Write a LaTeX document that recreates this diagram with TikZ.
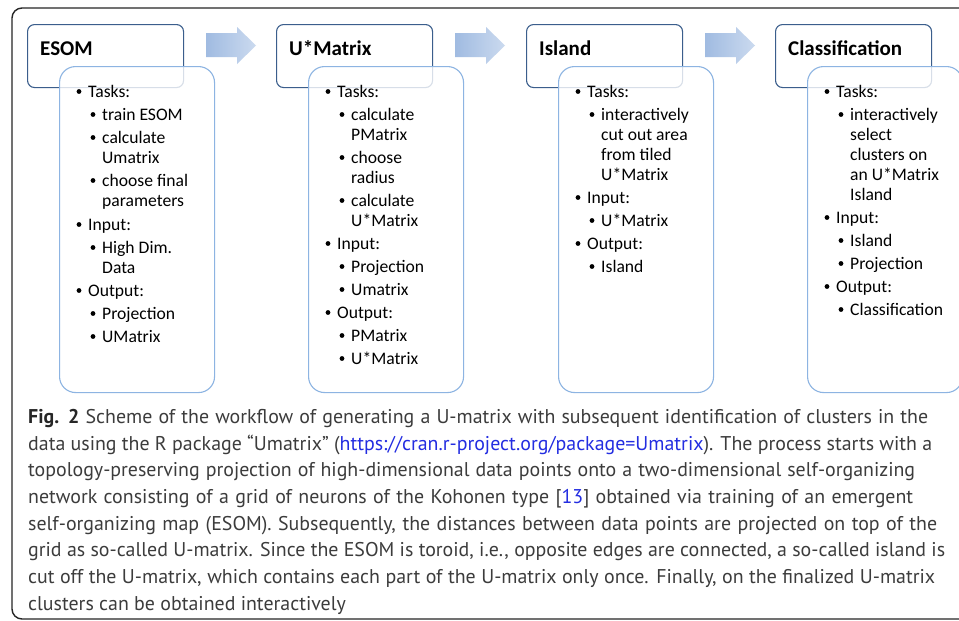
\documentclass[tikz,border=0pt]{standalone}
\usepackage{fontspec}
\setmainfont{Carlito}
\newfontfamily\capfont{PT Sans}
\definecolor{hdblue}{RGB}{59,94,140}
\definecolor{bdblue}{RGB}{141,180,226}
\definecolor{arrL}{RGB}{160,187,225}
\definecolor{arrR}{RGB}{203,218,239}
\definecolor{capgray}{RGB}{60,60,60}
\definecolor{linkblue}{RGB}{35,45,225}
\newcounter{tl}
\newcommand\tline[3]{\stepcounter{tl}\node[txt] (t\arabic{tl}) at (#1,#2) {#3};}
\newcommand\tbul[2]{\stepcounter{tl}\node[bul] (t\arabic{tl}) at (#1,#2-5.5) {};}
% level-1 item: offset, baseline, text
\newcommand\itA[3]{\tbul{79+#1}{#2}\tline{88+#1}{#2}{#3}}
% level-2 item
\newcommand\itB[3]{\tbul{93+#1}{#2}\tline{102+#1}{#2}{#3}}
% continuation line
\newcommand\itC[3]{\tline{102+#1}{#2}{#3}}
\newcommand\flowarrow[2]{\shade[left color=arrL, right color=arrR] (#1,33) -- (#1+31,33) -- (#1+31,27) -- (#1+50,45.5) -- (#1+31,64) -- (#1+31,57) -- (#1,57) -- cycle;\coordinate (#2) at (#1+25,45.5);}
\newcommand\capline[4]{\node[captxt] (#1) at (28,#2) {\makebox[#3pt][s]{#4}};}
\begin{document}
\begin{tikzpicture}[x=1pt,y=-1pt,
  frame/.style={draw=black!85, line width=1.4pt, rounded corners=10pt},
  headbox/.style={draw=hdblue, line width=1.1pt, fill=white, rounded corners=7pt, anchor=north west, minimum width=156pt, minimum height=63pt, inner sep=0pt},
  bodybox/.style={draw=bdblue, line width=1.1pt, fill=white, fill opacity=0.8, rounded corners=16pt, anchor=north west, minimum width=155pt, minimum height=326pt, inner sep=0pt},
  headtxt/.style={anchor=base west, inner sep=0pt, font=\fontsize{21}{24}\selectfont\bfseries},
  txt/.style={anchor=base west, inner sep=0pt, font=\fontsize{17.6}{20}\selectfont},
  bul/.style={circle, fill=black, inner sep=0pt, minimum size=4.8pt},
  captxt/.style={anchor=base west, inner sep=0pt, text=capgray, font=\capfont\fontsize{19.9}{26}\selectfont}]
\useasboundingbox (0,0) rectangle (959,621);
\fill[white] (0,0) rectangle (959,621);
\draw[frame] (12,8) -- (990,8) -- (990,619) -- (12,619) -- cycle;
% header boxes
\node[headbox] (h1) at (27,24) {};
\node[headbox] (h2) at (276,24) {};
\node[headbox] (h3) at (526,24) {};
\node[headbox] (h4) at (775,24) {};
\node[headtxt] (ht1) at (40,55) {ESOM};
\node[headtxt] (ht2) at (289,55) {U*Matrix};
\node[headtxt] (ht3) at (539,55) {Island};
\node[headtxt] (ht4) at (788,55) {Classification};
% arrows
\flowarrow{206}{a1}
\flowarrow{455}{a2}
\flowarrow{705}{a3}
% body boxes
\node[bodybox] (b1) at (59,66) {};
\node[bodybox] (b2) at (308,66) {};
\node[bodybox] (b3) at (558,66) {};
\node[bodybox] (b4) at (807,66) {};
% ESOM
\itA{0}{97}{Tasks:}
\itB{0}{120}{train ESOM}
\itB{0}{143}{calculate}
\itC{0}{163}{Umatrix}
\itB{0}{186}{choose final}
\itC{0}{206}{parameters}
\itA{0}{230}{Input:}
\itB{0}{253}{High Dim.}
\itC{0}{273}{Data}
\itA{0}{296}{Output:}
\itB{0}{319}{Projection}
\itB{0}{342}{UMatrix}
% U*Matrix
\itA{249}{97}{Tasks:}
\itB{249}{120}{calculate}
\itC{249}{140}{PMatrix}
\itB{249}{163}{choose}
\itC{249}{183}{radius}
\itB{249}{206}{calculate}
\itC{249}{226}{U*Matrix}
\itA{249}{249}{Input:}
\itB{249}{272}{Projection}
\itB{249}{295}{Umatrix}
\itA{249}{318}{Output:}
\itB{249}{341}{PMatrix}
\itB{249}{364}{U*Matrix}
% Island
\itA{499}{97}{Tasks:}
\itB{499}{120}{interactively}
\itC{499}{140}{cut out area}
\itC{499}{160}{from tiled}
\itC{499}{180}{U*Matrix}
\itA{499}{203}{Input:}
\itB{499}{226}{U*Matrix}
\itA{499}{249}{Output:}
\itB{499}{272}{Island}
% Classification
\itA{748}{97}{Tasks:}
\itB{748}{120}{interactively}
\itC{748}{140}{select}
\itC{748}{160}{clusters on}
\itC{748}{180}{an U*Matrix}
\itC{748}{200}{Island}
\itA{748}{223}{Input:}
\itB{748}{246}{Island}
\itB{748}{269}{Projection}
\itA{748}{292}{Output:}
\itB{748}{315}{Classification}
% caption
\capline{c1}{423}{900}{\textbf{\color{black!85}Fig. 2} Scheme of the workflow of generating a U-matrix with subsequent identification of clusters in the}
\capline{c2}{450}{904}{data using the R package “Umatrix” (\textcolor{linkblue}{https://cran.r-project.org/package=Umatrix}). The process starts with a}
\capline{c3}{476.5}{887}{topology-preserving projection of high-dimensional data points onto a two-dimensional self-organizing}
\capline{c4}{503}{885}{network consisting of a grid of neurons of the Kohonen type [\textcolor{linkblue}{13}] obtained via training of an emergent}
\capline{c5}{530}{909}{self-organizing map (ESOM). Subsequently, the distances between data points are projected on top of the}
\capline{c6}{556.5}{917}{grid as so-called U-matrix. Since the ESOM is toroid, i.e., opposite edges are connected, a so-called island is}
\capline{c7}{583}{907}{cut off the U-matrix, which contains each part of the U-matrix only once. Finally, on the finalized U-matrix}
\node[captxt] (c8) at (28,610) {clusters can be obtained interactively};
\end{tikzpicture}
\end{document}
